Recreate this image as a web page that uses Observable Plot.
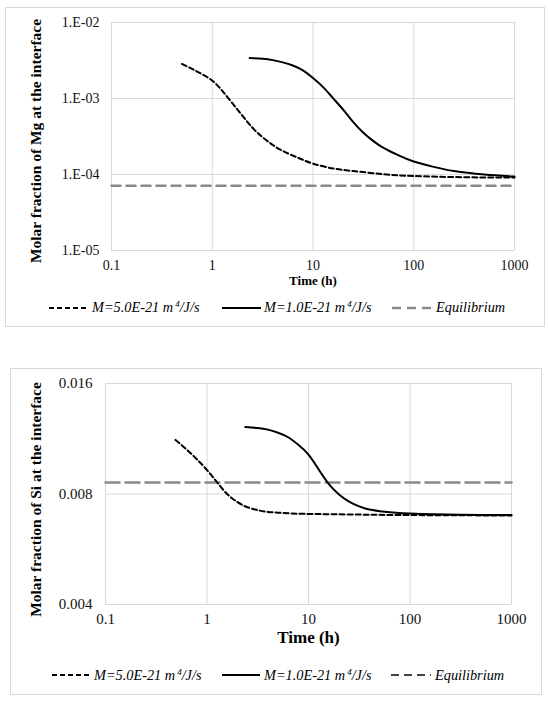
<!DOCTYPE html>
<html>
<head>
<meta charset="utf-8">
<script src="https://cdn.jsdelivr.net/npm/d3@7"></script>
<script src="https://cdn.jsdelivr.net/npm/@observablehq/plot@0.6"></script>
<style>
  html, body { margin: 0; padding: 0; background: #fff; }
  body { width: 549px; height: 702px; position: relative; overflow: hidden;
         font-family: "Liberation Serif", Tinos, "Times New Roman", Times, "DejaVu Serif", serif; }
  .panel { position: absolute; border: 1px solid #d9d9d9; box-sizing: border-box; }
  .chart { position: absolute; left: 0; }
  .legend-item { position: absolute; display: flex; align-items: center; height: 18px; }
  .legend-text { font-style: italic; font-size: 14.3px; color: #000; white-space: nowrap;
                 font-family: "Liberation Serif", Tinos, "Times New Roman", Times, "DejaVu Serif", serif; }
  .legend-text sup { font-size: 9px; vertical-align: 5px; margin-left: 2px; }
</style>
</head>
<body>
<div class="panel" style="left:5px; top:7px; width:540px; height:320px;"></div>
<div class="panel" style="left:10px; top:368px; width:532px; height:327px;"></div>
<div id="mg" class="chart" style="top:0px;"></div>
<div id="si" class="chart" style="top:360px;"></div>
<div id="legends"></div>
<script>
// Time axis (hours), shared by both panels
const timeTicks = [0.1, 1, 10, 100, 1000];
const timeTickLabels = ["0.1", "1", "10", "100", "1000"];

// Mg at the interface
const mgTicks = [1e-5, 1e-4, 1e-3, 1e-2];
const mgTickLabels = ["1.E-05", "1.E-04", "1.E-03", "1.E-02"];
const mgFastTime = [0.5, 0.63, 0.79, 1, 1.26, 1.58, 2.0, 2.51, 3.16, 3.98, 5.01, 7.08, 10, 15.8, 25.1, 50.1, 100, 316, 1000];
const mgFast = [2.85e-3, 2.45e-3, 2.09e-3, 1.72e-3, 1.26e-3, 8.7e-4, 5.9e-4, 4.12e-4, 3.09e-4, 2.45e-4, 2.04e-4, 1.66e-4, 1.39e-4, 1.20e-4, 1.11e-4, 1.01e-4, 9.55e-5, 9.2e-5, 9.1e-5];
const mgSlowTime = [2.35, 3.16, 3.98, 5.01, 6.31, 7.94, 10, 12.6, 15.8, 20, 25.1, 31.6, 39.8, 50.1, 70.8, 100, 158, 251, 501, 1000];
const mgSlow = [3.41e-3, 3.33e-3, 3.20e-3, 2.99e-3, 2.72e-3, 2.34e-3, 1.86e-3, 1.41e-3, 1.01e-3, 7.08e-4, 4.90e-4, 3.55e-4, 2.75e-4, 2.24e-4, 1.78e-4, 1.48e-4, 1.26e-4, 1.11e-4, 1.0e-4, 9.4e-5];
const mgEquilibrium = 7.1e-5;

// Si at the interface
const siTicks = [0.004, 0.008, 0.016];
const siTickLabels = ["0.004", "0.008", "0.016"];
const siFastTime = [0.49, 0.63, 0.79, 1.0, 1.26, 1.58, 2.0, 2.51, 3.16, 3.98, 6.31, 10, 31.6, 100, 1000];
const siFast = [0.01123, 0.01058, 0.00996, 0.0093, 0.0086, 0.008, 0.0076, 0.00736, 0.00723, 0.00715, 0.00709, 0.00706, 0.00703, 0.00701, 0.00699];
const siSlowTime = [2.38, 3.16, 3.98, 5.01, 6.31, 7.94, 10, 12.6, 15.8, 20, 25.1, 31.6, 39.8, 56.2, 100, 316, 1000];
const siSlow = [0.01218, 0.0121, 0.01198, 0.01175, 0.01142, 0.01089, 0.01024, 0.00933, 0.00853, 0.00798, 0.00763, 0.0074, 0.00726, 0.00716, 0.00708, 0.00702, 0.00701];
const siEquilibrium = 0.0086;

const seriesLabels = ["M=5.0E-21 m", "M=1.0E-21 m", "Equilibrium"];

const zip = (ts, vs) => ts.map((t, i) => ({t, v: vs[i]}));
// tick value -> label, tolerant of floating-point round trips
const lookup = (ticks, labels) => d => labels[ticks.findIndex(t => Math.abs(t - d) <= Math.abs(t) * 1e-6)];
const serif = "'Liberation Serif', Tinos, 'Times New Roman', Times, 'DejaVu Serif', serif";

function panel({yDomain, yTicks, yLabels, fast, slow, eq, eqDash,
                height, margins, tickSize, xPad, yPad, timeDy, timeSize, title, titleDx, titleDy}) {
  const eqData = [{t: 0.1, v: eq}, {t: 1000, v: eq}];
  return Plot.plot({
    width: 549,
    height,
    ...margins,
    style: {fontFamily: serif, fontSize: tickSize + "px", color: "#111", background: "transparent", overflow: "visible"},
    x: {type: "log", domain: [0.1, 1000]},
    y: {type: "log", domain: yDomain},
    marks: [
      Plot.gridX(timeTicks, {stroke: "#d9d9d9", strokeOpacity: 1, strokeWidth: 1}),
      Plot.gridY(yTicks, {stroke: "#d9d9d9", strokeOpacity: 1, strokeWidth: 1}),
      Plot.axisX(timeTicks, {tickSize: 0, tickPadding: xPad, tickFormat: lookup(timeTicks, timeTickLabels), label: null}),
      Plot.axisY(yTicks, {tickSize: 0, tickPadding: yPad, tickFormat: lookup(yTicks, yLabels), label: null}),
      Plot.line(eqData, {x: "t", y: "v", stroke: "#8a8a8a", strokeWidth: 2.5, strokeDasharray: eqDash}),
      Plot.line(fast, {x: "t", y: "v", stroke: "#000", strokeWidth: 2, strokeDasharray: "5,3", curve: "natural"}),
      Plot.line(slow, {x: "t", y: "v", stroke: "#000", strokeWidth: 2, curve: "natural"}),
      Plot.text(["Time (h)"], {text: d => d, frameAnchor: "bottom", dy: timeDy, fontWeight: "bold", fontSize: timeSize, fill: "#000"}),
      Plot.text([title], {text: d => d, frameAnchor: "left", textAnchor: "middle", dx: titleDx, dy: titleDy, rotate: -90, fontWeight: "bold", fontSize: 15.5, fill: "#000"})
    ]
  });
}

document.getElementById("mg").append(panel({
  yDomain: [1e-5, 1e-2], yTicks: mgTicks, yLabels: mgTickLabels,
  fast: zip(mgFastTime, mgFast), slow: zip(mgSlowTime, mgSlow), eq: mgEquilibrium, eqDash: "9,6",
  height: 295, margins: {marginLeft: 111, marginRight: 35, marginTop: 22, marginBottom: 45},
  tickSize: 14, xPad: 10, yPad: 12, timeDy: 34, timeSize: 13,
  title: "Molar fraction of Mg at the interface", titleDx: -75, titleDy: 4.5
}));

document.getElementById("si").append(panel({
  yDomain: [0.004, 0.016], yTicks: siTicks, yLabels: siTickLabels,
  fast: zip(siFastTime, siFast), slow: zip(siSlowTime, siSlow), eq: siEquilibrium, eqDash: "14,6",
  height: 300, margins: {marginLeft: 105, marginRight: 38, marginTop: 23, marginBottom: 56},
  tickSize: 15, xPad: 9, yPad: 13, timeDy: 38, timeSize: 17,
  title: "Molar fraction of Si at the interface", titleDx: -69, titleDy: 5.5
}));

// Legends below each chart
function legend(top, items) {
  const host = d3.select("#legends");
  items.forEach(it => {
    const row = host.append("div").attr("class", "legend-item")
      .style("top", (top - 9) + "px").style("left", it.x0 + "px");
    const w = it.x1 - it.x0;
    const svg = row.append("svg").attr("width", w).attr("height", 18);
    svg.append("line").attr("x1", 0).attr("x2", w).attr("y1", 9).attr("y2", 9)
      .attr("stroke", it.color).attr("stroke-width", it.width)
      .attr("stroke-dasharray", it.dash || null);
    const span = row.append("span").attr("class", "legend-text")
      .style("margin-left", (it.tx - it.x1) + "px");
    if (it.sup) {
      span.append("span").text(it.label);
      span.append("sup").text("4");
      span.append("span").text("/J/s");
    } else {
      span.text(it.label);
    }
  });
}

legend(307.5, [
  {x0: 49, x1: 89, tx: 92, color: "#000", width: 2, dash: "5,3", label: seriesLabels[0], sup: true},
  {x0: 222, x1: 261, tx: 264, color: "#000", width: 2, label: seriesLabels[1], sup: true},
  {x0: 392, x1: 433, tx: 436, color: "#8a8a8a", width: 2.5, dash: "9,6", label: seriesLabels[2]}
]);
legend(675, [
  {x0: 52, x1: 92, tx: 94, color: "#000", width: 2, dash: "5,3", label: seriesLabels[0], sup: true},
  {x0: 222, x1: 260, tx: 264, color: "#000", width: 2, label: seriesLabels[1], sup: true},
  {x0: 391, x1: 431, tx: 435, color: "#444", width: 2, dash: "8,5", label: seriesLabels[2]}
]);
</script>
</body>
</html>
